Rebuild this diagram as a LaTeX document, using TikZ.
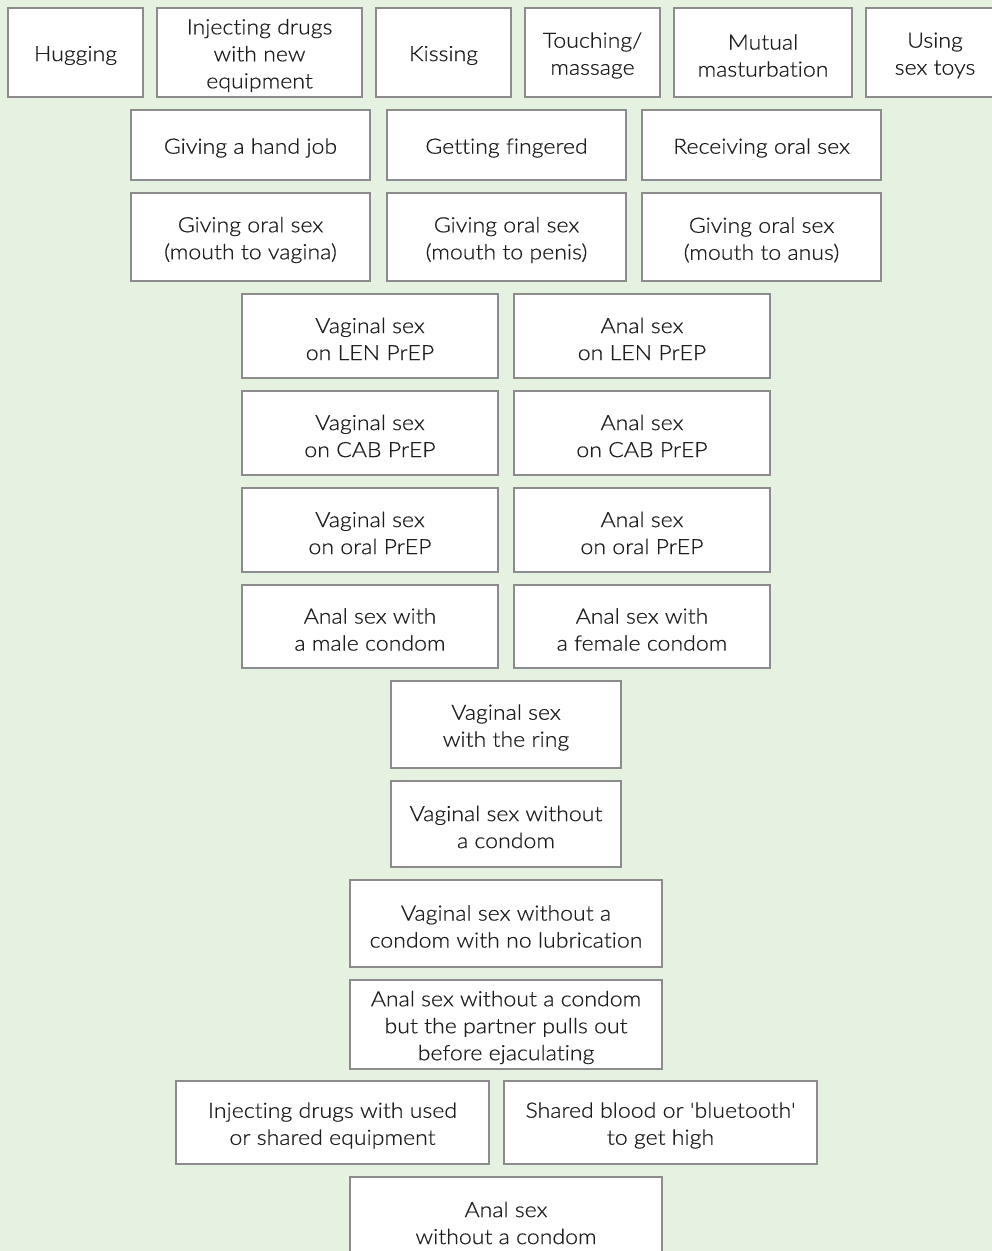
\documentclass[tikz,border=0pt]{standalone}
\usepackage{fontspec}
\setmainfont{Lato}[UprightFont={* Light}, FakeStretch=1.1, FakeBold=0.6, Ligatures={NoCommon,TeXOff}]
\definecolor{bggreen}{HTML}{E6F2E1}
\definecolor{boxline}{HTML}{8C8C8C}
\definecolor{txt}{HTML}{1E1E1E}
\tikzset{
  riskbox/.style={draw=boxline, line width=1.3pt, fill=white, inner sep=0pt},
  risktext/.style={inner sep=0pt, align=center, text=txt,
    font=\fontsize{21}{27}\selectfont},
}
\newcommand{\bx}[6]{%
  \node[riskbox, minimum width={(#4-#2)*1pt}, minimum height={(#5-#3)*1pt}]
    (#1) at ({(#2+#4)/2},{(#3+#5)/2}) {};
  \node[risktext] (#1-t) at ([yshift=-3pt]#1.center) {#6};}
\begin{document}
\begin{tikzpicture}[x=1pt,y=-1pt]
\useasboundingbox (0,0) rectangle (992,1251);
\fill[bggreen] (0,0) rectangle (992,1251);
\clip (0,0) rectangle (992,1251);
\bx{hug}{8}{8}{143}{97}{Hugging}
\bx{inj}{157}{8}{362}{97}{Injecting drugs\\with new\\equipment}
\bx{kiss}{376}{8}{511}{97}{Kissing}
\bx{touch}{525}{8}{660}{97}{Touching/\\massage}
\bx{mutual}{674}{8}{852}{97}{Mutual\\masturbation}
\bx{toys}{866}{8}{1004}{97}{Using\\sex toys}
\bx{hand}{131}{110}{370}{180}{Giving a hand job}
\bx{finger}{387}{110}{626}{180}{Getting fingered}
\bx{recv}{642}{110}{881}{180}{Receiving oral sex}
\bx{oralv}{131}{193}{370}{281}{Giving oral sex\\(mouth to vagina)}
\bx{oralp}{387}{193}{626}{281}{Giving oral sex\\(mouth to penis)}
\bx{orala}{642}{193}{881}{281}{Giving oral sex\\(mouth to anus)}
\bx{vlen}{242}{294}{498}{378}{Vaginal sex\\on LEN PrEP}
\bx{alen}{514}{294}{770}{378}{Anal sex\\on LEN PrEP}
\bx{vcab}{242}{391}{498}{475}{Vaginal sex\\on CAB PrEP}
\bx{acab}{514}{391}{770}{475}{Anal sex\\on CAB PrEP}
\bx{vor}{242}{488}{498}{572}{Vaginal sex\\on oral PrEP}
\bx{aor}{514}{488}{770}{572}{Anal sex\\on oral PrEP}
\bx{amale}{242}{585}{498}{668}{Anal sex with\\a male condom}
\bx{afem}{514}{585}{770}{668}{Anal sex with\\a female condom}
\bx{ring}{391}{681}{621}{768}{Vaginal sex\\with the ring}
\bx{vnc}{391}{781}{621}{867}{Vaginal sex without\\a condom}
\bx{vnl}{350}{880}{662}{967}{Vaginal sex without a\\condom with no lubrication}
\bx{apull}{350}{980}{662}{1069}{Anal sex without a condom\\but the partner pulls out\\before ejaculating}
\bx{injused}{176}{1081}{489}{1164}{Injecting drugs with used\\or shared equipment}
\bx{shared}{504}{1081}{817}{1164}{Shared blood or 'bluetooth'\\to get high}
\bx{anc}{350}{1177}{662}{1263}{Anal sex\\without a condom}
\end{tikzpicture}
\end{document}
